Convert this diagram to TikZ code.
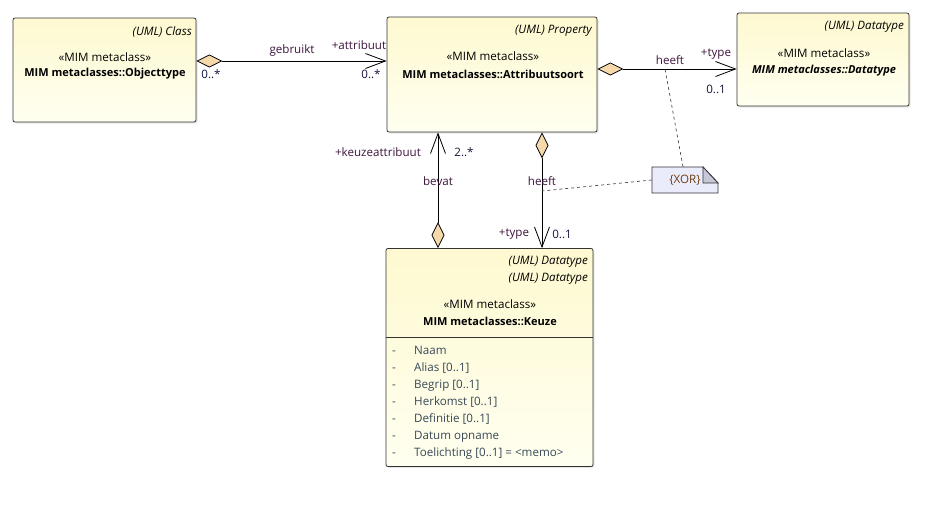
\documentclass[tikz,border=0pt]{standalone}
\usepackage{fontspec}
\setmainfont{Open Sans}
\usepackage{xcolor}
\usetikzlibrary{arrows.meta,positioning,shadows}
\definecolor{boxtop}{RGB}{254,249,208}
\definecolor{boxbot}{RGB}{255,255,240}
\definecolor{diam}{RGB}{245,217,170}
\definecolor{notefill}{RGB}{234,236,252}
\definecolor{notefold}{RGB}{198,200,216}
\definecolor{lbl}{RGB}{60,20,60}
\definecolor{mult}{RGB}{20,20,60}
\definecolor{attrtxt}{RGB}{55,72,88}
\definecolor{xortxt}{RGB}{110,60,20}

\begin{document}
\begin{tikzpicture}[x=1pt,y=-1pt,
    umlbox/.style={rectangle,draw=black!80,rounded corners=2pt,line width=0.8pt,
      top color=boxtop,bottom color=boxbot,
      drop shadow={opacity=0.2,shadow xshift=1.5pt,shadow yshift=-1.5pt}},
    meta/.style={font=\fontsize{11.6}{14}\selectfont\itshape,anchor=east,inner sep=0pt},
    txt/.style={font=\fontsize{11.6}{14}\selectfont,inner sep=0pt},
    boldtxt/.style={font=\fontsize{11}{14}\selectfont\bfseries,inner sep=0pt},
    lab/.style={txt,text=lbl},
    mul/.style={txt,text=mult},
    attr/.style={txt,text=attrtxt,anchor=base west},
    comp/.style={line width=0.8pt,{Diamond[length=26pt,width=13pt,fill=diam]}->},
    >={Straight Barb[length=20pt,width=15pt]}]
  \useasboundingbox (0,0) rectangle (927,509);
  \node[umlbox,minimum width=183pt,minimum height=104pt] (obj) at (104.5,70) {};
  \node[umlbox,minimum width=210pt,minimum height=115pt] (attr) at (492,74.5) {};
  \node[umlbox,minimum width=172pt,minimum height=93pt] (dt) at (823,59.5) {};
  \node[umlbox,minimum width=207pt,minimum height=218pt] (keuze) at (489.5,357.5) {};
  \draw[line width=0.8pt,black!80] (keuze.west |- 0,337) -- (keuze.east |- 0,337);

  \node[meta] (objm) at (192,32) {(UML) Class};
  \node[txt] (objs) at (105,57) {«MIM metaclass»};
  \node[boldtxt] (objn) at (105,74) {MIM metaclasses::Objecttype};
  \node[meta] (attrm) at (592,31) {(UML) Property};
  \node[txt] (attrs) at (493,56) {«MIM metaclass»};
  \node[boldtxt] (attrn) at (493,74) {MIM metaclasses::Attribuutsoort};
  \node[meta] (dtm) at (904,27) {(UML) Datatype};
  \node[txt] (dts) at (824,53) {«MIM metaclass»};
  \node[boldtxt,font=\fontsize{11}{14}\selectfont\bfseries\itshape] (dtn) at (824,71) {MIM metaclasses::Datatype};
  \node[meta] (km1) at (588,262) {(UML) Datatype};
  \node[meta] (km2) at (588,279) {(UML) Datatype};
  \node[txt] (ks) at (490,304) {«MIM metaclass»};
  \node[boldtxt] (kn) at (490,321) {MIM metaclasses::Keuze};
  \foreach \a [count=\i] in {Naam,{Alias [0..1]},{Begrip [0..1]},{Herkomst [0..1]},
      {Definitie [0..1]},{Datum opname},{Toelichting [0..1] = <memo>}} {
    \node[attr] (kd\i) at (392,337+17*\i) {-};
    \node[attr] (ka\i) at (414,337+17*\i) {\a};
  }

  \draw[comp] ([yshift=9pt]obj.east) -- ([yshift=13.5pt]attr.west);
  \draw[comp] ([yshift=5.5pt]attr.east) -- ([yshift=-9.5pt]dt.west);
  \draw[comp] ([xshift=-51.5pt]keuze.north) -- ([xshift=-54pt]attr.south);
  \draw[comp] ([xshift=50pt]attr.south) -- ([xshift=52.5pt]keuze.north);

  \node[lab] (gebr) at (292,50) {gebruikt};
  \node[lab] (rattr) at (359,45) {+attribuut};
  \node[mul] (m1) at (211,74) {0..*};
  \node[mul] (m2) at (371,74) {0..*};
  \node[lab] (heeft1) at (670,60) {heeft};
  \node[lab] (rtype1) at (716,54) {+type};
  \node[mul] (m3) at (716,89) {0..1};
  \node[lab] (rkeuze) at (378,152) {+keuzeattribuut};
  \node[mul] (m4) at (464,152) {2..*};
  \node[lab] (bevat) at (438,181) {bevat};
  \node[lab] (heeft2) at (542,181) {heeft};
  \node[lab] (rtype2) at (514,234) {+type};
  \node[mul] (m5) at (562,234) {0..1};

  \filldraw[fill=notefill,draw=black!80,line width=0.8pt]
    (652,167) -- (703,167) -- (718,183) -- (718,193) -- (652,193) -- cycle;
  \filldraw[fill=notefold,draw=black!80,line width=0.8pt] (703,167) -- (718,183) -- (703,183) -- cycle;
  \node[txt,text=xortxt,minimum width=66pt,minimum height=26pt] (xor) at (685,180) {\{XOR\}\hspace{12pt}};
  \coordinate (xa) at (542,191);
  \coordinate (xb) at (665,69);
  \draw[dashed,black!70,line width=0.7pt] (xor.west) -- (xa);
  \draw[dashed,black!70,line width=0.7pt] ([xshift=-2pt]xor.north) -- (xb);
\end{tikzpicture}
\end{document}
